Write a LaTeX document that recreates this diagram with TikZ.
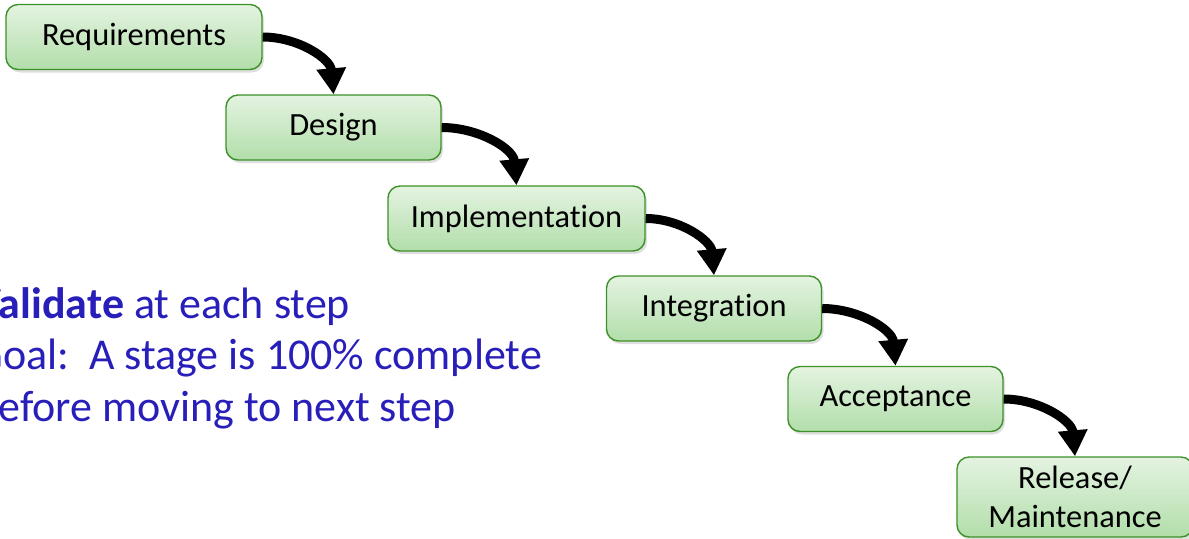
\documentclass[tikz,border=0pt]{standalone}
\usepackage{fontspec}
\setmainfont{Carlito}[Ligatures=NoCommon]
\usetikzlibrary{arrows.meta,shadows}
\definecolor{stagegreen}{RGB}{60,145,40}
\definecolor{stagetop}{RGB}{228,243,225}
\definecolor{stagebot}{RGB}{178,222,170}
\definecolor{noteblue}{RGB}{40,30,185}

\begin{document}
\begin{tikzpicture}[x=0.5pt, y=0.5pt,
  every node/.style={font=\fontsize{16.2}{19.5}\selectfont},
  stage/.style={draw=stagegreen, line width=0.7pt, rounded corners=6pt,
    top color=stagetop, bottom color=stagebot,
    minimum width=107.5pt, minimum height=32.5pt, align=center, inner sep=0pt,
    drop shadow={opacity=0.25, shadow xshift=1pt, shadow yshift=-1.5pt}},
  flow/.style={-{Triangle[length=13pt,width=14pt]}, line width=4.5pt, black},
]

% ===== Frame: 1189 x 538 px, y runs downwards =====
\useasboundingbox (0,0) rectangle (1189,-538);
\clip (0,0) rectangle (1189,-538);

%% ---- STAGES (staircase) ----
\node[stage, minimum width=128pt] (req) at (134,-37) {Requirements};
\node[stage] (des) at (333.5,-127.5) {Design};
\node[stage, minimum width=128.5pt] (impl) at (516.5,-218.5) {Implementation};
\node[stage] (integ) at (714,-308.5) {Integration};
\node[stage] (acc) at (895.5,-399) {Acceptance};
\node[stage, minimum width=118pt, minimum height=40pt] (rel) at (1075,-497)
  {Release/\\Maintenance};

%% ---- FLOW ARROWS ----
\draw[flow] (req.east) to[out=0, in=95] (des.north);
\draw[flow] (des.east) to[out=0, in=95] (impl.north);
\draw[flow] (impl.east) to[out=0, in=95] (integ.north);
\draw[flow] (integ.east) to[out=0, in=95] (acc.north);
\draw[flow] (acc.east) to[out=0, in=95] (rel.north);

%% ---- NOTE (left, partly cut off) ----
\node[anchor=west, text=noteblue, align=left, inner sep=0pt,
      font=\fontsize{22}{25.75}\selectfont] (note) at (-25,-358)
  {\textbf{Validate} at each step\\
   Goal:\ \ A stage is 100\% complete\\
   before moving to next step};

\end{tikzpicture}
\end{document}
